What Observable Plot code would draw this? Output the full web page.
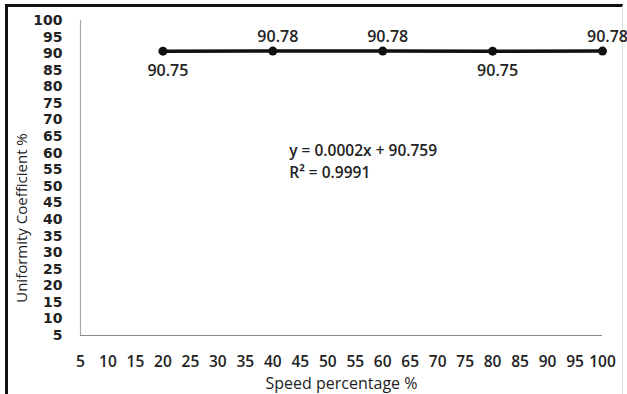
<!DOCTYPE html>
<html>
<head>
<meta charset="utf-8">
<script src="https://cdn.jsdelivr.net/npm/d3@7"></script>
<script src="https://cdn.jsdelivr.net/npm/@observablehq/plot@0.6"></script>
<style>
  html, body { margin: 0; padding: 0; background: #fff; }
  #wrap { position: relative; width: 627px; height: 394px; overflow: hidden; }
  #frame { position: absolute; left: 5px; top: 4px; width: 614px; height: 400px;
           border-top: 3px solid #111; border-left: 3px solid #111; border-right: 1px solid #ddd; }
  #chart { position: absolute; left: 0; top: 0; }
</style>
</head>
<body>
<div id="wrap"><div id="frame"></div><div id="chart"></div></div>
<script>
const speeds = [20, 40, 60, 80, 100];
const uniformity = [90.75, 90.78, 90.78, 90.75, 90.78];
const xTicks = [5,10,15,20,25,30,35,40,45,50,55,60,65,70,75,80,85,90,95,100];
const yTicks = [5,10,15,20,25,30,35,40,45,50,55,60,65,70,75,80,85,90,95,100];
const xTitle = "Speed percentage %";
const yTitle = "Uniformity Coefficient %";
const equation = "y = 0.0002x + 90.759";
const rSquared = "R² = 0.9991";

const data = speeds.map((s, i) => ({speed: s, uc: uniformity[i]}));
const font = "'Open Sans', sans-serif";

const chart = Plot.plot({
  width: 627,
  height: 394,
  marginLeft: 80,
  marginRight: 25,
  marginTop: 20,
  marginBottom: 59,
  style: {fontFamily: font, background: "transparent"},
  x: {domain: [5, 100]},
  y: {domain: [5, 100]},
  marks: [
    Plot.axisX({ticks: xTicks, tickSize: 0, tickPadding: 20, label: null,
      fontSize: 15.5, fontWeight: 600, fill: "#222"}),
    Plot.axisY({ticks: yTicks, tickSize: 0, tickPadding: 18, label: null,
      fontSize: 14, fontWeight: 700, fontFamily: "'DejaVu Sans', sans-serif", fill: "#222"}),
    Plot.ruleY([5], {stroke: "#888", strokeWidth: 1.2}),
    Plot.ruleX([5], {stroke: "#aaa", strokeWidth: 1.2}),
    Plot.text([xTitle], {frameAnchor: "bottom", dy: 53, fontSize: 16, fill: "#222"}),
    Plot.text([yTitle], {frameAnchor: "left", textAnchor: "middle", dx: -58, dy: 40, rotate: -90, fontSize: 15, fill: "#222"}),
    Plot.line(data, {x: "speed", y: "uc", stroke: "#111", strokeWidth: 3.5}),
    Plot.dot(data, {x: "speed", y: "uc", r: 4.5, fill: "#111"}),
    Plot.text(data.filter(d => d.uc > 90.76), {x: "speed", y: "uc", text: d => d.uc.toFixed(2),
      dy: -14, dx: 5, fontSize: 16, fontWeight: 600, fill: "#222"}),
    Plot.text(data.filter(d => d.uc <= 90.76), {x: "speed", y: "uc", text: d => d.uc.toFixed(2),
      dy: 20, dx: 5, fontSize: 16, fontWeight: 600, fill: "#222"}),
    Plot.text([equation + "\n" + rSquared], {x: 43, y: 58, textAnchor: "start", lineHeight: 1.4,
      fontSize: 15.5, fontWeight: 600, fill: "#222"})
  ]
});
document.getElementById("chart").appendChild(chart);
</script>
</body>
</html>
